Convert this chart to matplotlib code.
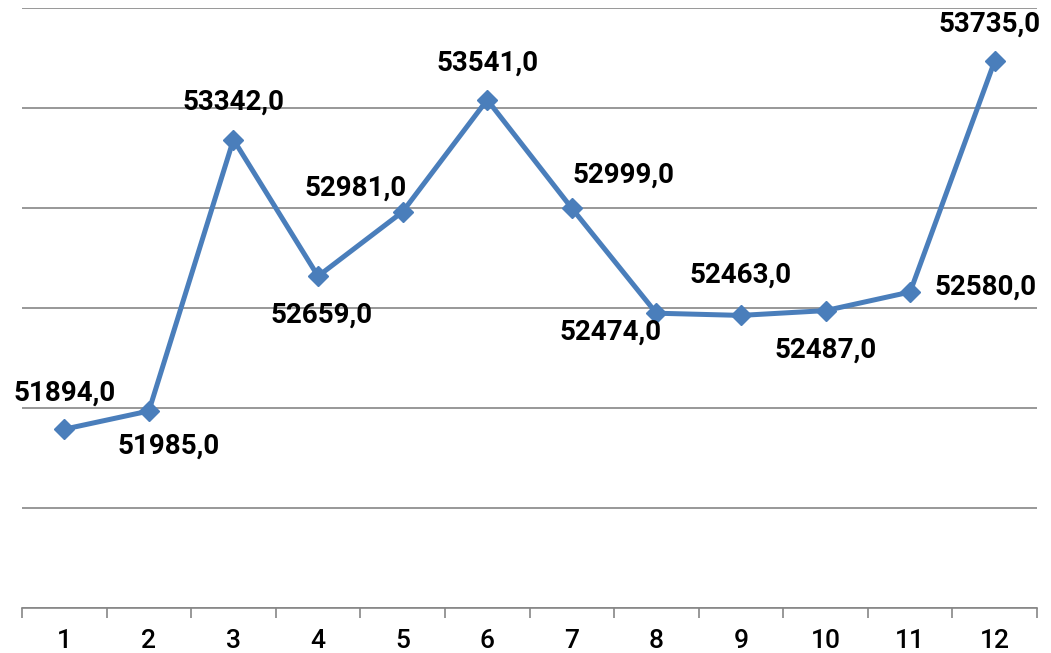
import matplotlib
matplotlib.use("Agg")
import matplotlib.pyplot as plt
import numpy as np

categories = [str(i) for i in range(1, 13)]
values = [51894, 51985, 53342, 52659, 52981, 53541, 52999, 52474, 52463, 52487, 52580, 53735]
# label offsets in pixels (dx, dy) relative to point
label_offsets = [(0, 36), (20, -35), (0, 37), (4, -39), (-47, 24), (0, 37),
                 (52, 33), (-46, -19), (0, 40), (0, -40), (75, 5), (-5, 37)]

plt.rcParams['font.family'] = ['Roboto', 'DejaVu Sans']
fig = plt.figure(figsize=(10.51, 6.53), dpi=100)
ax = fig.add_axes([22/1051, 1-608/653, (1037-22)/1051, 600/653])

x = np.arange(1, len(values) + 1)
color = '#4A7EBB'
ax.plot(x, values, color=color, lw=3.6, marker='D', markersize=10.5, zorder=3,
        solid_joinstyle='miter')

for xi, v, (dx, dy) in zip(x, values, label_offsets):
    ax.annotate(f"{v},0", (xi, v), xytext=(dx, dy), textcoords='offset pixels',
                ha='center', va='center', fontsize=20, fontweight='bold', color='black',
                annotation_clip=False)

ax.set_xlim(0.5, 12.5)
ax.set_ylim(51000, 54000)
ax.set_yticks(np.arange(51000, 54001, 500))
ax.yaxis.grid(True, color='#868686', lw=1.2)
ax.set_axisbelow(True)
ax.tick_params(axis='y', left=False, labelleft=False)
for s in ['top', 'right', 'left']:
    ax.spines[s].set_visible(False)
ax.spines['bottom'].set_color('#868686')
ax.spines['bottom'].set_linewidth(1.2)

ax.set_xticks(x)
ax.set_xticklabels(categories, fontsize=19, fontweight='medium')
ax.set_xticks(np.arange(0.5, 12.6, 1), minor=True)
ax.tick_params(axis='x', which='major', length=0, pad=15)
ax.tick_params(axis='x', which='minor', length=7, color='#868686', width=1.2)

fig.savefig('out.png', dpi=100)
